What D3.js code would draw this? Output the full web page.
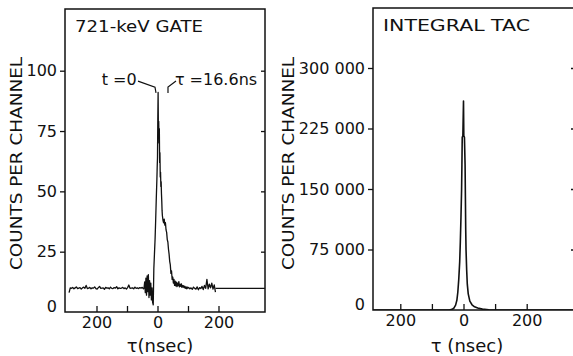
<!DOCTYPE html>
<html><head><meta charset="utf-8">
<script src="https://cdn.jsdelivr.net/npm/d3@7/dist/d3.min.js"></script>
<style>
html,body{margin:0;padding:0;background:#fff;}
svg{display:block;}
text{font-family:"DejaVu Sans",sans-serif;fill:#111;}
</style></head><body>
<svg id="c" width="573" height="356"></svg>
<script>
// ---------- DATA ----------
const gateTitle = "721-keV GATE";
const tacTitle = "INTEGRAL TAC";
const yLabel = "COUNTS PER CHANNEL";
const gateXLabel = "τ(nsec)";
const tacXLabel = "τ (nsec)";

const gateTime = [-290,-286,-282,-278,-274,-270,-266,-262,-258,-254,-250,-246,-242,-238,-234,-230,-226,-222,-218,-214,-210,-206,-202,-198,-194,-190,-186,-182,-178,-174,-170,-166,-162,-158,-154,-150,-146,-142,-138,-134,-130,-126,-122,-118,-114,-110,-106,-102,-98,-94,-90,-86,-82,-78,-74,-70,-66,-62,-58,-54,-50,-46,
-44,-42,-40,-38,-36,-34,-32,-30,-28,-26,-24,-22,-20,-18,-16,-14,-12,-10,-8,-6,-4,-2,
-1,0,1,2,3,4,5,6,7,8,9,10,11,12,13,14,15,16,
18,20,22,24,26,28,30,32,34,36,38,40,42,44,46,48,50,52,54,56,58,60,62,64,66,68,70,72,74,76,78,80,82,84,86,88,90,92,94,96,98,100,
102,106,110,114,118,122,126,130,134,138,142,146,150,154,158,162,166,170,174,178,182,186,190];
const gateCounts = [8,10,9.8,10.2,9.6,10,10.4,9.7,9.9,10.1,9.5,10,10.3,9.8,11,9.7,9.9,10.2,9.6,10,9.9,10.4,9.7,9.5,10.1,10.6,9.8,9.9,10,9.4,10.2,9.9,10,9.6,10.3,9.8,9.7,10.1,9.9,10.5,9.6,10,9.8,9.9,10.2,9.7,10,9.5,10.1,11.2,9.8,9.9,10,9.6,10.3,9.8,10,9.7,10.1,9.9,10.2,9.6,
10,12.5,8,14,7,15,8.5,15.5,6,13,7,12,5,10,4,3,18,24,30,38,47,55,
60,64,80,91,74,79,70,76,62,66,56,58,52,54,49,46,42,40,
38,37,38.5,36,37,34,33,30,29,26,24,21,19.5,16,17,13.5,14.5,12,13.5,11,12.8,10.8,12.4,10.5,12,10.9,12.6,10.4,11.4,10.6,11.7,10.2,11,10.3,10.9,10,10.6,9.8,10.4,9.6,10.3,9.9,
10.2,9.6,10,9.4,10.3,9.8,9.5,10.4,9.2,10.1,9.7,10.6,9.3,11,9.8,13.5,9.6,11.5,10,12,9.5,11.2,8.2];
const gateBgTime = [190, 352];
const gateBgCounts = [9.8, 9.8];

const tacTime = [-290,-45,-36,-30,-25,-21,-18,-15,-12,-10,-8,-6,-5,-4,-2,0,1,3,5,6,7,8,10,12,15,20,27,35,45,60,80,100,353];
const tacCounts = [0,0,800,2500,6000,12000,22000,38000,60000,85000,115000,150000,180000,214000,216000,259000,216000,214000,180000,140000,100000,75000,50000,32000,20000,11000,6500,4000,2400,1100,300,0,0];

const xTicks = [-200,-100,0,100,200];
const xTickLabels = [-200,0,200];
const gateYTicks = [0,25,50,75,100];
const tacYTicks = [0,75000,150000,225000,300000];

// annotation anchors in data units
const annT0Text = [-183, 94.1];
const annTauText = [57, 94.1];
const annT0Leader = [[-64,95.7],[-8.2,93.2],[-4.9,90.8]];
const annTauLeader = [[60.7,95.7],[34.4,93.2],[34.4,90.8]];

// ---------- DRAW ----------
const svg = d3.select("#c");
const ink = "#111";

function panel(cfg){
  const g = svg.append("g");
  const x = d3.scaleLinear().domain(cfg.xDomain).range([cfg.left, cfg.right]);
  const y = d3.scaleLinear().domain(cfg.yDomain).range([cfg.bottom, cfg.top]);
  const id = "clip" + cfg.name;
  svg.append("clipPath").attr("id", id).append("rect")
    .attr("x", cfg.left).attr("y", cfg.top)
    .attr("width", cfg.right - cfg.left).attr("height", cfg.bottom - cfg.top);

  // frame
  g.append("rect").attr("x", cfg.left).attr("y", cfg.top)
    .attr("width", cfg.right - cfg.left).attr("height", cfg.bottom - cfg.top)
    .attr("fill","none").attr("stroke", ink).attr("stroke-width", 1.5);

  // bottom axis (ticks inward)
  const xa = g.append("g").attr("transform", `translate(0,${cfg.bottom})`)
    .call(d3.axisBottom(x).tickValues(xTicks).tickSizeInner(-6).tickSizeOuter(0)
      .tickPadding(5).tickFormat(d => xTickLabels.includes(d) ? String(Math.abs(d)) : ""));
  xa.select(".domain").remove();
  xa.selectAll("line").attr("stroke", ink).attr("stroke-width", 1.3);
  xa.selectAll("text").attr("font-size", 16).attr("font-family", "DejaVu Sans").attr("fill", ink);

  // left axis (ticks outward)
  const ya = g.append("g").attr("transform", `translate(${cfg.left},0)`)
    .call(d3.axisLeft(y).tickValues(cfg.yTicks).tickSizeInner(5).tickSizeOuter(0)
      .tickPadding(3).tickFormat(cfg.yFmt));
  ya.select(".domain").remove();
  ya.selectAll("line").attr("stroke", ink).attr("stroke-width", 1.3);
  ya.selectAll("text").attr("font-size", 16).attr("font-family", "DejaVu Sans").attr("fill", ink);
  ya.selectAll(".tick").filter(d => d === 0).select("text").attr("dy", "-0.05em");
  ya.selectAll(".tick").filter(d => d === 0).select("line").remove();

  // right-edge ticks (inward)
  const ra = g.append("g").attr("transform", `translate(${cfg.right},0)`)
    .call(d3.axisLeft(y).tickValues(cfg.yTicks.filter(d => d > 0)).tickSizeInner(4).tickSizeOuter(0).tickFormat(""));
  ra.select(".domain").remove();
  ra.selectAll("line").attr("stroke", ink).attr("stroke-width", 1.3);

  // data
  const line = d3.line().x(d => x(d[0])).y(d => y(d[1]));
  cfg.series.forEach(s => {
    g.append("path").datum(d3.zip(s.t, s.v))
      .attr("d", line).attr("fill","none").attr("stroke", ink)
      .attr("stroke-width", s.w).attr("stroke-linejoin","round")
      .attr("clip-path", `url(#${id})`);
  });

  // title
  g.append("text").attr("x", cfg.left + 10).attr("y", cfg.top + 23)
    .attr("font-size", 16).attr("textLength", cfg.titleLen).attr("lengthAdjust","spacingAndGlyphs")
    .text(cfg.title);

  // y label
  g.append("text").attr("transform", `translate(${cfg.yLabelX},163.5) rotate(-90)`)
    .attr("text-anchor","middle").attr("dominant-baseline","central")
    .attr("font-size", 15).attr("textLength", 213).attr("lengthAdjust","spacingAndGlyphs")
    .text(yLabel);

  // x label
  g.append("text").attr("x", cfg.xLabelX).attr("y", 352)
    .attr("text-anchor","middle").attr("font-size", 18)
    .text(cfg.xLabel);

  return {g, x, y};
}

const left = panel({
  name:"gate", left:65, right:265, top:9, bottom:312,
  xDomain:[(65-157.5)/0.305, (265-157.5)/0.305], yDomain:[0, (312-9)/2.413],
  yTicks: gateYTicks, yFmt: d => String(d),
  series:[{t:gateTime, v:gateCounts, w:1.3},{t:gateBgTime, v:gateBgCounts, w:1.3}],
  title: gateTitle, titleLen: 128, yLabelX: 17, xLabelX: 160, xLabel: gateXLabel
});

const right = panel({
  name:"tac", left:373, right:575, top:8, bottom:310,
  xDomain:[(373-463.5)/0.316, (575-463.5)/0.316], yDomain:[0, (310-8)/60.5*75000],
  yTicks: tacYTicks, yFmt: d => d === 0 ? "0" : d3.format(",")(d).replace(",", " "),
  series:[{t:tacTime, v:tacCounts, w:1.6}],
  title: tacTitle, titleLen: 147, yLabelX: 289, xLabelX: 467, xLabel: tacXLabel
});

// annotations on left panel
const lx = left.x, ly = left.y;
left.g.append("text").attr("x", lx(annT0Text[0])).attr("y", ly(annT0Text[1]))
  .attr("font-size", 16).text("t =0");
left.g.append("text").attr("x", lx(annTauText[0])).attr("y", ly(annTauText[1]))
  .attr("font-size", 16).text("τ =16.6ns");
const aline = d3.line().x(d => lx(d[0])).y(d => ly(d[1]));
[annT0Leader, annTauLeader].forEach(p => {
  left.g.append("path").attr("d", aline(p)).attr("fill","none")
    .attr("stroke", ink).attr("stroke-width", 1.2);
});
</script>
</body></html>
